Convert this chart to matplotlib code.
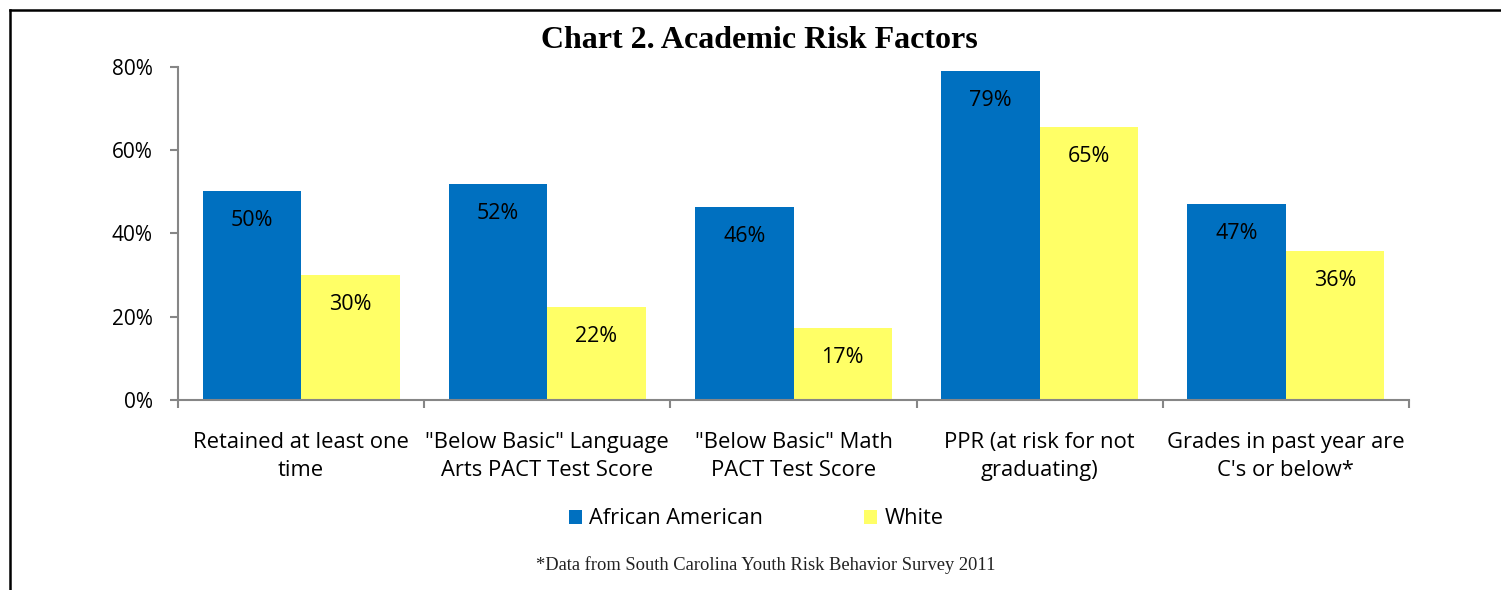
import numpy as np
import matplotlib.pyplot as plt
from matplotlib.lines import Line2D

categories = ["Retained at least one\ntime",
              "\"Below Basic\" Language\nArts PACT Test Score",
              "\"Below Basic\" Math\nPACT Test Score",
              "PPR (at risk for not\ngraduating)",
              "Grades in past year are\nC's or below*"]
african_american = [50.2, 51.9, 46.4, 79.0, 47.1]
white = [30.0, 22.3, 17.3, 65.6, 35.8]
aa_labels = ["50%", "52%", "46%", "79%", "47%"]
white_labels = ["30%", "22%", "17%", "65%", "36%"]

blue = "#0070c0"
yellow = "#ffff66"
axis_gray = "#868686"
sans = ["Open Sans", "DejaVu Sans"]

fig = plt.figure(figsize=(15.01, 5.90), dpi=100)
ax = fig.add_axes([178/1501, 1-400/590, (1409-178)/1501, (400-67)/590])

x = np.arange(len(categories))
w = 0.4
b1 = ax.bar(x - w/2, african_american, w, color=blue, label="African American")
b2 = ax.bar(x + w/2, white, w, color=yellow, label="White")

# data labels just inside the top of each bar
for bars, labs in [(b1, aa_labels), (b2, white_labels)]:
    for r, lab in zip(bars, labs):
        ax.annotate(lab, (r.get_x() + r.get_width()/2, r.get_height()),
                    xytext=(0, -21), textcoords="offset points",
                    ha="center", va="center", fontsize=15.5, family=sans)

ax.set_xlim(-0.5, len(categories) - 0.5)
ax.set_ylim(0, 80)
ax.set_yticks([0, 20, 40, 60, 80])
ax.set_yticklabels(["0%", "20%", "40%", "60%", "80%"], family=sans, fontsize=15)
ax.set_xticks(x)
ax.set_xticklabels(categories, family=sans, fontsize=15.8, linespacing=1.45)
ax.set_xticks(np.arange(-0.5, len(categories)), minor=True)
ax.tick_params(axis="x", which="major", length=0, pad=23)
ax.tick_params(axis="x", which="minor", length=6, color=axis_gray, width=1.5)
ax.tick_params(axis="y", length=6, color=axis_gray, width=1.5, pad=12)
for s in ["top", "right"]:
    ax.spines[s].set_visible(False)
for s in ["left", "bottom"]:
    ax.spines[s].set_color(axis_gray)
    ax.spines[s].set_linewidth(1.5)

fig.text(759/1501, 1-41/590, "Chart 2. Academic Risk Factors", ha="center", va="center",
         fontsize=23, fontweight="bold", family="Liberation Serif")

fig.legend(handles=[b1, b2], loc="center", bbox_to_anchor=(756/1501, 1-519/590),
           ncol=2, frameon=False, prop={"family": sans, "size": 15.7},
           handlelength=0.6, handleheight=0.6, handletextpad=0.35, columnspacing=4.6)

fig.text(766/1501, 1-565/590, "*Data from South Carolina Youth Risk Behavior Survey 2011",
         ha="center", va="center", fontsize=13.3, family="Liberation Serif", color="#222222")

# outer frame (left and top only)
fig.add_artist(Line2D([10/1501, 10/1501], [0, 1-10/590], color="black", lw=1.8,
                      transform=fig.transFigure))
fig.add_artist(Line2D([10/1501, 1], [1-10/590, 1-10/590], color="black", lw=1.8,
                      transform=fig.transFigure))

fig.savefig("out.png", dpi=100)
